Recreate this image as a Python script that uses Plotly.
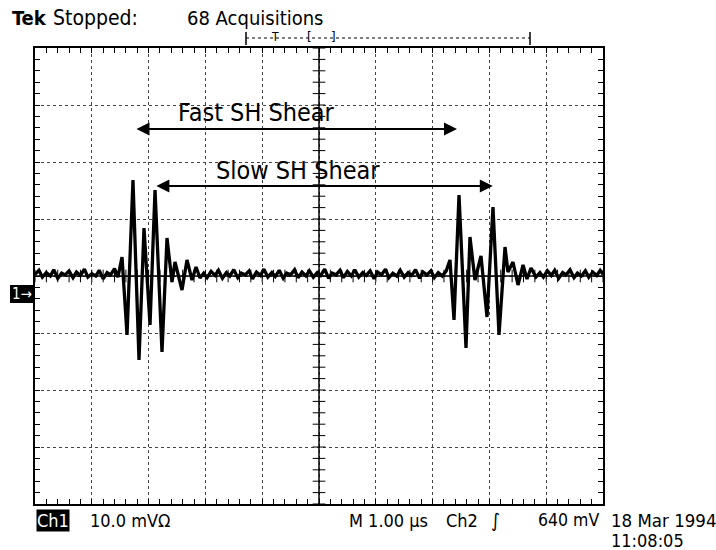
import plotly.graph_objects as go

# ---- data (time in µs, amplitude in mV) ----
t_pre = [0.00, 0.07, 0.13, 0.20, 0.27, 0.33, 0.40, 0.47, 0.53, 0.60, 0.67, 0.73, 0.80, 0.87,
         0.93, 1.00, 1.07, 1.13, 1.20, 1.27, 1.33, 1.40, 1.46]
v_pre = [0.3, 1.0, -0.2, 0.6, 0.0, 1.1, -0.4, 0.5, 0.2, 0.9, -0.3, 0.7, 0.1, 1.2,
         -0.2, 0.4, 0.0, 1.0, -0.5, 0.6, 0.2, 1.3, -0.2]

t_fast = [1.532, 1.620, 1.725, 1.831, 1.919, 2.025, 2.113, 2.236, 2.324, 2.412, 2.465,
          2.588, 2.676, 2.764, 2.835, 2.905]
v_fast = [3.33, -10.35, 16.84, -14.74, 8.42, -8.60, 15.09, -13.33, 6.67, -1.05, 2.46,
          -2.46, 2.81, -0.70, 1.58, -0.35]

t_mid = [2.97, 3.03, 3.10, 3.17, 3.23, 3.30, 3.37, 3.43, 3.50, 3.57, 3.63, 3.70, 3.77, 3.83,
         3.90, 3.97, 4.03, 4.10, 4.17, 4.23, 4.30, 4.37, 4.43, 4.50, 4.57, 4.63, 4.70, 4.77,
         4.83, 4.90, 4.97, 5.03, 5.10, 5.17, 5.23, 5.30, 5.37, 5.43, 5.50, 5.57, 5.63, 5.70,
         5.77, 5.83, 5.90, 5.97, 6.03, 6.10, 6.17, 6.23, 6.30, 6.37, 6.43, 6.50, 6.57, 6.63,
         6.70, 6.77, 6.83, 6.90, 6.97, 7.03, 7.10, 7.17, 7.24]
v_mid = [0.5, -0.3, 0.8, 0.1, 1.0, -0.4, 0.6, 0.0, 1.1, -0.3, 0.5, 0.2, 0.9, -0.5,
         0.7, 0.1, 1.2, -0.2, 0.6, -0.1, 1.0, -0.4, 0.5, 0.2, 1.1, -0.3, 0.7, 0.0,
         0.9, -0.2, 0.6, 0.1, 1.2, -0.4, 0.5, 0.2, 1.0, -0.3, 0.8, 0.0, 1.1, -0.2,
         0.6, 0.1, 0.9, -0.5, 0.7, 0.2, 1.2, -0.3, 0.5, 0.0, 1.0, -0.2, 0.6, 0.1,
         1.1, -0.4, 0.7, 0.2, 0.9, -0.3, 0.6, 0.0, 0.9]

t_slow = [7.306, 7.377, 7.465, 7.588, 7.658, 7.746, 7.852, 7.958, 8.063, 8.169, 8.275,
          8.327, 8.415, 8.504, 8.592, 8.662, 8.732, 8.820]
v_slow = [2.81, -7.72, 14.21, -12.63, 6.84, -0.70, 3.51, -7.19, 12.11, -10.35, 5.09,
          0.70, 2.46, -1.58, 1.93, -0.53, 1.40, -0.18]

t_post = [8.89, 8.95, 9.02, 9.09, 9.15, 9.22, 9.29, 9.35, 9.42, 9.49, 9.55, 9.62, 9.69,
          9.75, 9.82, 9.89, 9.95, 10.00]
v_post = [0.6, -0.2, 0.9, 0.1, 1.0, -0.4, 0.6, 0.2, 1.1, -0.3, 0.5, 0.0, 0.9,
          -0.2, 0.7, 0.1, 1.0, 0.3]

fast_arrow = (1.76, 7.43, 25.8)   # start µs, end µs, level mV
slow_arrow = (2.11, 8.06, 15.8)

t_all = t_pre + t_fast + t_mid + t_slow + t_post
v_all = v_pre + v_fast + v_mid + v_slow + v_post

# ---- layout geometry ----
W_FIG, H_FIG = 716, 550
L, R, T, B = 35, 603, 48, 504
PW, PH = R - L, B - T
def px(x):
    return (x - L) / PW
def py(y):
    return (B - y) / PH

FONT = "DejaVu Sans Condensed, DejaVu Sans, sans-serif"

fig = go.Figure()

fig.add_trace(go.Scatter(x=t_all, y=v_all, mode="lines",
                         line=dict(color="black", width=3.3), hoverinfo="skip"))

# centre cross-hair ticks
ny = [-40 + 2 * i for i in range(41)]
nx = [0.2 * i for i in range(51)]
fig.add_trace(go.Scatter(x=[5] * len(ny), y=ny, mode="markers",
                         marker=dict(symbol="line-ew", size=9,
                                     line=dict(color="black", width=1)),
                         hoverinfo="skip"))
fig.add_trace(go.Scatter(x=nx, y=[0] * len(nx), mode="markers",
                         marker=dict(symbol="line-ns", size=9,
                                     line=dict(color="black", width=1)),
                         hoverinfo="skip"))

axis_common = dict(showticklabels=False, showline=True, linecolor="black", linewidth=1.5,
                   mirror="ticks", ticks="inside", ticklen=5, tickcolor="black",
                   showgrid=True, gridcolor="#444444", gridwidth=1, griddash="dot",
                   zeroline=False, fixedrange=True)

fig.update_xaxes(range=[0, 10], dtick=1, tick0=0,
                 minor=dict(dtick=0.2, ticks="inside", ticklen=5, tickcolor="black",
                            showgrid=False),
                 **axis_common)
fig.update_yaxes(range=[-40, 40], dtick=10, tick0=0,
                 minor=dict(dtick=2, ticks="inside", ticklen=5, tickcolor="black",
                            showgrid=False),
                 **axis_common)

shapes = [
    dict(type="line", xref="x", yref="paper", x0=5, x1=5, y0=0, y1=1,
         line=dict(color="black", width=1.5)),
    dict(type="line", xref="paper", yref="y", x0=0, x1=1, y0=0, y1=0,
         line=dict(color="black", width=1.5)),
    # record bar
    dict(type="line", xref="paper", yref="paper", x0=px(246), x1=px(530), y0=py(38), y1=py(38),
         line=dict(color="black", width=1, dash="dot")),
    dict(type="line", xref="paper", yref="paper", x0=px(246), x1=px(246), y0=py(32), y1=py(45),
         line=dict(color="black", width=1.5)),
    dict(type="line", xref="paper", yref="paper", x0=px(530), x1=px(530), y0=py(32), y1=py(45),
         line=dict(color="black", width=1.5)),
    # channel-1 ground marker box
    dict(type="rect", xref="paper", yref="paper", x0=px(10), x1=px(35), y0=py(303), y1=py(285),
         fillcolor="black", line=dict(width=0)),
]

ann = []
def txt(s, x, y, size, anchor="left", color="black", bg=None, bold=False, pad=0):
    ann.append(dict(text=(f"<b>{s}</b>" if bold else s), xref="paper", yref="paper",
                    x=px(x), y=py(y), xanchor=anchor, yanchor="middle", showarrow=False,
                    font=dict(family=FONT, size=size, color=color),
                    bgcolor=bg, borderpad=pad))

txt("Tek", 11, 18, 20, bold=True)
txt("Stopped:", 52, 18, 21)
txt("68 Acquisitions", 186, 18, 20)
txt("T", 275, 37, 12, anchor="center")
txt("[", 309, 37, 13, anchor="center")
txt("]", 333, 37, 13, anchor="center")
txt("1→", 22, 294, 15, anchor="center", color="white")
txt("Ch1", 53, 520, 18, anchor="center", color="white", bg="black")
txt("10.0 mVΩ", 89, 520, 18)
txt("M 1.00 µs", 348, 520, 18)
txt("Ch2", 445, 520, 18)
txt("∫", 495, 520, 19, anchor="center")
txt("640 mV", 537, 520, 17.5)
txt("18 Mar 1994", 610, 520, 18.5)
txt("11:08:05", 610, 540, 18)
txt("Fast SH Shear", 256, 112, 25, anchor="center")
txt("Slow SH Shear", 298, 170, 25, anchor="center")

for (a, b, lev) in (fast_arrow, slow_arrow):
    ann.append(dict(x=b, y=lev, ax=a, ay=lev, xref="x", yref="y", axref="x", ayref="y",
                    text="", showarrow=True, arrowhead=2, arrowside="end+start",
                    arrowsize=1.3, arrowwidth=2, arrowcolor="black"))

fig.update_layout(width=W_FIG, height=H_FIG, autosize=False,
                  margin=dict(l=L, r=W_FIG - R, t=T, b=H_FIG - B, pad=0),
                  paper_bgcolor="white", plot_bgcolor="white", showlegend=False,
                  shapes=shapes, annotations=ann)

fig.write_html("out.html", config={"displayModeBar": False},
               post_script="document.body.style.margin='0';document.body.style.overflow='hidden';")
